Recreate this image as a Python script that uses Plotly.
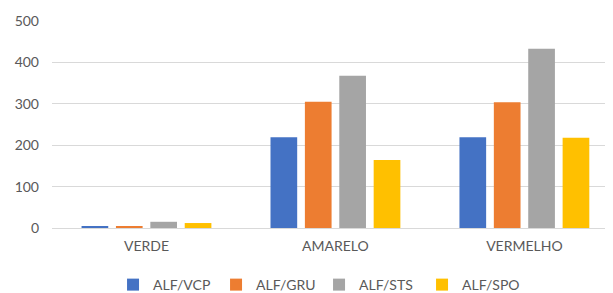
import plotly.graph_objects as go

categories = ["VERDE", "AMARELO", "VERMELHO"]
series_names = ["ALF/VCP", "ALF/GRU", "ALF/STS", "ALF/SPO"]
alf_vcp = [3, 219, 219]
alf_gru = [4, 305, 304]
alf_sts = [15, 368, 433]
alf_spo = [12, 164, 218]
y_ticks = [0, 100, 200, 300, 400, 500]

values = [alf_vcp, alf_gru, alf_sts, alf_spo]
colors = ["#4472C4", "#ED7D31", "#A5A5A5", "#FFC000"]

fig = go.Figure()
for name, vals, col in zip(series_names, values, colors):
    fig.add_trace(go.Bar(x=categories, y=vals, name=name, marker_color=col,
                         marker_line_width=0))

# page body has an 8px margin, so the figure is sized to fill the rest
font = dict(family="Lato, 'Open Sans', sans-serif", size=14, color="#595959")
fig.update_layout(
    width=605, height=285,
    margin=dict(l=44, r=0, t=13, b=65, autoexpand=False),
    paper_bgcolor="white", plot_bgcolor="white",
    font=font,
    barmode="group", bargap=0.272, bargroupgap=0.224,
    showlegend=True,
    legend=dict(orientation="h", x=0.476, xanchor="center",
                yref="container", y=0.028, yanchor="middle",
                font=font, entrywidth=58, entrywidthmode="pixels",
                itemclick=False),
    xaxis=dict(range=[-0.5, 2.469], showgrid=False, showline=False, zeroline=False,
               ticks="", ticklabelstandoff=8, tickfont=font, automargin=False),
    yaxis=dict(range=[0, 500], tickvals=y_ticks, showgrid=True, gridcolor="#D9D9D9",
               gridwidth=1, zeroline=True, zerolinecolor="#D9D9D9", zerolinewidth=1,
               showline=False, ticks="", ticklabelstandoff=12, tickfont=font,
               automargin=False),
)
fig.write_html("out.html")
